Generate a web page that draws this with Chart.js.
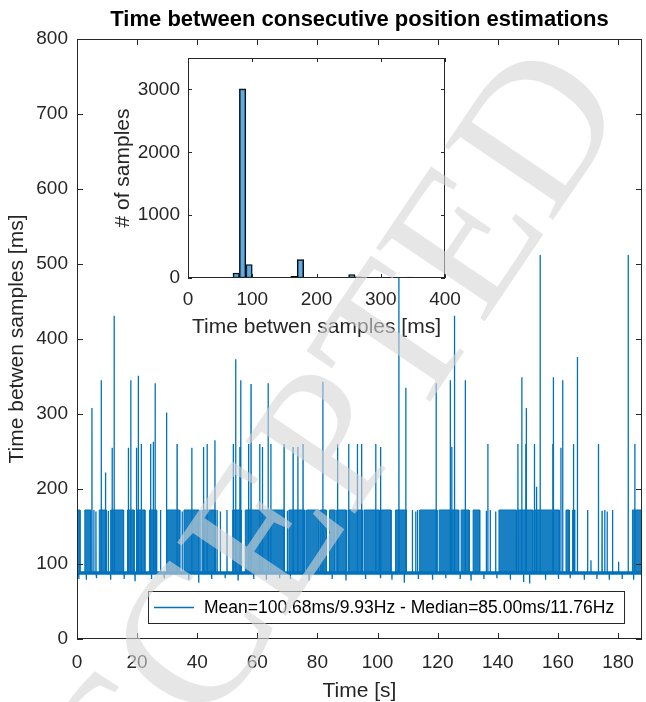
<!DOCTYPE html>
<html>
<head>
<meta charset="utf-8">
<script src="https://cdn.jsdelivr.net/npm/chart.js@4.4.1/dist/chart.umd.min.js"></script>
<style>
  html, body { margin: 0; padding: 0; background: #fff; }
  #wrap { position: relative; width: 646px; height: 702px; }
  #wrap canvas { position: absolute; left: 0; top: 0; }
</style>
</head>
<body>
<div id="wrap">
  <canvas id="mainChart" width="646" height="702"></canvas>
  <canvas id="histChart" width="646" height="702"></canvas>
</div>
<script>
// ---- données ----
// niveau de base et niveau "double période" (ms)
const baseLevel = [88];
const doubleLevel = [172];

// zones denses où la courbe oscille sans arrêt entre ~88 et ~172 ms (s)
const bandStart = [0.0, 2.6, 7.4, 11.2, 16.8, 19.9, 24.1, 30.0, 35.6, 41.8, 51.8, 56.0, 70.5, 76.4, 81.0, 84.0,
  86.4, 90.2, 95.5, 101.2, 106.0, 114.0, 120.5, 127.8, 131.8, 140.4, 146.7, 152.2, 162.7, 164.9, 184.8];
const bandEnd = [1.0, 4.6, 9.8, 15.5, 19.0, 22.6, 26.5, 34.2, 40.6, 46.0, 54.6, 69.0, 75.8, 80.5, 83.0, 85.8,
  89.6, 95.0, 100.6, 104.5, 109.6, 119.8, 127.0, 130.5, 134.0, 146.2, 151.7, 160.5, 163.8, 165.6, 188];

// pics (s, ms)
const spikeTimes = [4.97, 8.06, 9.49, 11.7, 12.36, 17.1, 17.9, 19.8, 20.4, 21.4, 24.5, 25.4, 26.0, 29.8, 33.3, 38.2, 42.1, 43.3, 45.9,
  52.0, 52.8, 54.2, 54.5, 57.1, 57.9, 60.8, 61.7, 63.6, 64.5, 68.9, 71.9, 73.5, 75.2, 81.8, 86.7, 90.4, 93.3,
  94.7, 99.4, 101.1, 107.1, 109.4, 119.5, 124.2, 124.7, 125.6, 129.2, 136.7,
  146.7, 148.0, 149.3, 149.5, 152.2, 152.9, 154.1, 158.3, 158.5, 161.0, 161.6, 165.2, 166.5, 173.5, 183.4, 185.6];
const spikeValues = [308, 345, 222, 255, 431, 255, 345, 255, 351, 260, 260, 263, 341, 302, 260, 255, 256, 260, 265,
  260, 373, 256, 345, 260, 340, 260, 256, 341, 260, 260, 256, 256, 260, 343, 260, 260, 260,
  260, 260, 256, 560, 335, 341, 345, 256, 431, 345, 260,
  260, 349, 260, 308, 260, 203, 512, 260, 349, 255, 345, 260, 376, 260, 512, 260];

// échantillons isolés à ~170 ms
const singleTimes = [5.6, 6.3, 10.4, 27.8, 35.0, 41.2, 46.6, 47.7, 49.9, 70.0, 111.6, 112.7, 113.3, 136.2, 137.5, 139.3,
  169.9, 174.7, 175.6, 176.4, 178.2];
const singleValues = [172, 170, 171, 172, 170, 172, 172, 170, 172, 171, 172, 170, 172, 171, 172, 170, 172, 171, 172, 170, 172];

// petites variations autour de la base
const smallTimes = [0.6, 3.1, 6.5, 11.2, 15.7, 19.3, 24.8, 29.0, 37.2, 40.5, 44.8, 49.3, 53.6, 58.8, 63.0, 67.4, 71.0, 77.2,
  84.9, 89.5, 96.0, 100.9, 104.8, 108.9, 113.6, 118.3, 122.7, 127.5, 131.1, 135.4, 139.7, 144.2, 148.6, 150.6, 155.9,
  160.2, 164.1, 168.8, 171.0, 173.0, 177.1, 180.2, 181.4, 185.2];
const smallValues = [80, 79, 81, 79, 80, 78, 80, 81, 79, 75, 80, 81, 79, 80, 79, 81, 80, 79, 80, 78, 80, 81, 79, 75, 80,
  79, 81, 80, 79, 80, 81, 79, 76, 74, 79, 80, 81, 79, 105, 80, 79, 103, 80, 79];

// histogramme (centre des classes de 10 ms, nombre d'échantillons)
const binCenters = [75, 85, 95, 165, 175, 255, 265, 335, 345, 435, 515];
const binCounts = [80, 3010, 215, 25, 292, 55, 20, 6, 14, 2, 3];

// axes
const timeTicks = [0, 20, 40, 60, 80, 100, 120, 140, 160, 180];
const msTicks = [0, 100, 200, 300, 400, 500, 600, 700, 800];
const histXTicks = [0, 100, 200, 300, 400];
const histYTicks = [0, 1000, 2000, 3000];

const legendText = 'Mean=100.68ms/9.93Hz - Median=85.00ms/11.76Hz';

// ---- styles ----
const BLUE = '#0072BD';
const TXT = '#262626';
const FONT = "'Liberation Sans', Arial, Helvetica, sans-serif";

// construit la courbe des zones denses
function bandPoints() {
  const b = baseLevel[0], d = doubleLevel[0];
  const pts = [{x: 0, y: b}];
  bandStart.forEach((s, i) => {
    pts.push({x: s, y: b}, {x: s, y: d}, {x: bandEnd[i], y: d}, {x: bandEnd[i], y: b});
  });
  pts.push({x: 188, y: b});
  return pts;
}

// construit la courbe des pics et échantillons isolés
function eventPoints() {
  const b = baseLevel[0];
  const ev = [];
  spikeTimes.forEach((t, i) => ev.push([t, spikeValues[i]]));
  singleTimes.forEach((t, i) => ev.push([t, singleValues[i]]));
  smallTimes.forEach((t, i) => ev.push([t, smallValues[i]]));
  ev.sort((a, c) => a[0] - c[0]);
  const pts = [{x: 0, y: b}];
  ev.forEach(([t, v]) => {
    pts.push({x: t - 0.04, y: b}, {x: t, y: v}, {x: t + 0.04, y: b});
  });
  pts.push({x: 188, y: b});
  return pts;
}

// cadre + graduations vers l'intérieur, façon MATLAB
const boxTicks = {
  id: 'boxTicks',
  afterDatasetsDraw(chart, args, opts) {
    const {ctx, chartArea: a, scales} = chart;
    const len = opts.len || 6;
    ctx.save();
    ctx.strokeStyle = TXT;
    ctx.lineWidth = 1;
    ctx.strokeRect(a.left + 0.5, a.top + 0.5, a.right - a.left - 1, a.bottom - a.top - 1);
    ctx.beginPath();
    scales.x.ticks.forEach(t => {
      const px = Math.round(scales.x.getPixelForValue(t.value)) + 0.5;
      ctx.moveTo(px, a.bottom); ctx.lineTo(px, a.bottom - len);
      ctx.moveTo(px, a.top); ctx.lineTo(px, a.top + len);
    });
    scales.y.ticks.forEach(t => {
      const py = Math.round(scales.y.getPixelForValue(t.value)) + 0.5;
      ctx.moveTo(a.left, py); ctx.lineTo(a.left + len, py);
      ctx.moveTo(a.right, py); ctx.lineTo(a.right - len, py);
    });
    ctx.stroke();
    ctx.restore();
  }
};

// légende dans le coin bas droit
const boxLegend = {
  id: 'boxLegend',
  afterDraw(chart) {
    const {ctx, chartArea: a} = chart;
    const w = 476, h = 32;
    const x = a.right - 18 - w, y = a.bottom - 16 - h;
    ctx.save();
    ctx.fillStyle = '#fff';
    ctx.fillRect(x, y, w, h);
    ctx.strokeStyle = TXT;
    ctx.lineWidth = 1;
    ctx.strokeRect(x + 0.5, y + 0.5, w, h);
    ctx.strokeStyle = BLUE;
    ctx.lineWidth = 1.3;
    ctx.beginPath();
    ctx.moveTo(x + 6, y + h / 2 + 0.5);
    ctx.lineTo(x + 46, y + h / 2 + 0.5);
    ctx.stroke();
    ctx.fillStyle = '#000';
    ctx.font = '17.5px ' + FONT;
    ctx.textBaseline = 'middle';
    ctx.fillText(legendText, x + 56, y + h / 2 + 1);
    ctx.restore();
  }
};

// fond blanc de l'encart
const whiteArea = {
  id: 'whiteArea',
  beforeDraw(chart) {
    const {ctx, chartArea: a} = chart;
    ctx.save();
    ctx.fillStyle = '#fff';
    ctx.fillRect(a.left, a.top, a.right - a.left, a.bottom - a.top);
    ctx.restore();
  }
};

// filigrane
const watermark = {
  id: 'watermark',
  afterDraw(chart) {
    const ctx = chart.ctx;
    ctx.save();
    ctx.translate(298, 504);
    ctx.rotate(-56 * Math.PI / 180);
    ctx.font = "200px 'Liberation Serif', 'DejaVu Serif', serif";
    ctx.fillStyle = 'rgba(214,214,214,0.6)';
    ctx.textAlign = 'center';
    ctx.textBaseline = 'middle';
    ctx.fillText('ACCEPTED', 0, 0);
    ctx.restore();
  }
};

function fixedTicks(list) {
  return scale => { scale.ticks = list.map(v => ({value: v})); };
}
const plainLabel = v => String(v);

// ---- graphique principal ----
new Chart(document.getElementById('mainChart').getContext('2d'), {
  type: 'line',
  data: {
    datasets: [
      {
        label: legendText,
        data: eventPoints(),
        borderColor: BLUE,
        borderWidth: 1.3,
        pointRadius: 0,
        fill: false
      },
      {
        label: 'bandes',
        data: bandPoints(),
        borderColor: BLUE,
        borderWidth: 1,
        backgroundColor: 'rgba(0,114,189,0.9)',
        pointRadius: 0,
        fill: {value: baseLevel[0]}
      },
      {
        label: 'base',
        data: [{x: 0, y: baseLevel[0]}, {x: 188, y: baseLevel[0]}],
        borderColor: BLUE,
        borderWidth: 3.5,
        pointRadius: 0,
        fill: false
      }
    ]
  },
  options: {
    responsive: false,
    animation: false,
    layout: {padding: 0},
    plugins: {
      legend: {display: false},
      tooltip: {enabled: false},
      title: {
        display: true,
        text: 'Time between consecutive position estimations',
        fullSize: false,
        color: '#000',
        font: {family: FONT, size: 22, weight: 'bold'},
        padding: {top: 7, bottom: 5.6}
      },
      boxTicks: {len: 6}
    },
    scales: {
      x: {
        type: 'linear', min: 0, max: 188,
        border: {display: false},
        grid: {display: false, drawTicks: false},
        afterBuildTicks: fixedTicks(timeTicks),
        ticks: {color: TXT, font: {family: FONT, size: 19}, padding: 12, maxRotation: 0, autoSkip: false, callback: plainLabel},
        title: {display: true, text: 'Time [s]', color: TXT, font: {family: FONT, size: 21, lineHeight: 1}, padding: {top: 0, bottom: 0}},
        afterFit: s => { s.height = 63; }
      },
      y: {
        type: 'linear', min: 0, max: 800,
        border: {display: false},
        grid: {display: false, drawTicks: false},
        afterBuildTicks: fixedTicks(msTicks),
        ticks: {color: TXT, font: {family: FONT, size: 19}, padding: 9, callback: plainLabel},
        title: {display: true, text: 'Time betwen samples [ms]', color: TXT, font: {family: FONT, size: 21}, padding: {top: 5, bottom: 0}},
        afterFit: s => { s.width = 77; }
      }
    }
  },
  plugins: [boxTicks, boxLegend]
});

// ---- encart : histogramme ----
new Chart(document.getElementById('histChart').getContext('2d'), {
  type: 'bar',
  data: {
    datasets: [{
      label: '# of samples',
      data: binCenters.map((c, i) => ({x: c, y: binCounts[i]})),
      backgroundColor: 'rgba(0,114,189,0.6)',
      borderColor: '#000',
      borderWidth: 1,
      borderSkipped: false,
      barPercentage: 1,
      categoryPercentage: 1
    }]
  },
  options: {
    responsive: false,
    animation: false,
    layout: {padding: {left: 100, top: 58, right: 201, bottom: 354}},
    plugins: {
      legend: {display: false},
      tooltip: {enabled: false},
      boxTicks: {len: 4}
    },
    scales: {
      x: {
        type: 'linear', min: 0, max: 400, offset: false,
        border: {display: false},
        grid: {display: false, drawTicks: false, offset: false},
        afterBuildTicks: fixedTicks(histXTicks),
        ticks: {color: TXT, font: {family: FONT, size: 19}, padding: 10, maxRotation: 0, autoSkip: false, callback: plainLabel},
        title: {display: true, text: 'Time betwen samples [ms]', color: TXT, font: {family: FONT, size: 21}, padding: {top: 0, bottom: 8}},
        afterFit: s => { s.height = 70; }
      },
      y: {
        type: 'linear', min: 0, max: 3500,
        border: {display: false},
        grid: {display: false, drawTicks: false},
        afterBuildTicks: fixedTicks(histYTicks),
        ticks: {color: TXT, font: {family: FONT, size: 19}, padding: 8, callback: plainLabel},
        title: {display: true, text: '# of samples', color: TXT, font: {family: FONT, size: 21}, padding: {top: 11, bottom: 0}},
        afterFit: s => { s.width = 88; }
      }
    }
  },
  plugins: [whiteArea, boxTicks, watermark]
});
</script>
</body>
</html>
